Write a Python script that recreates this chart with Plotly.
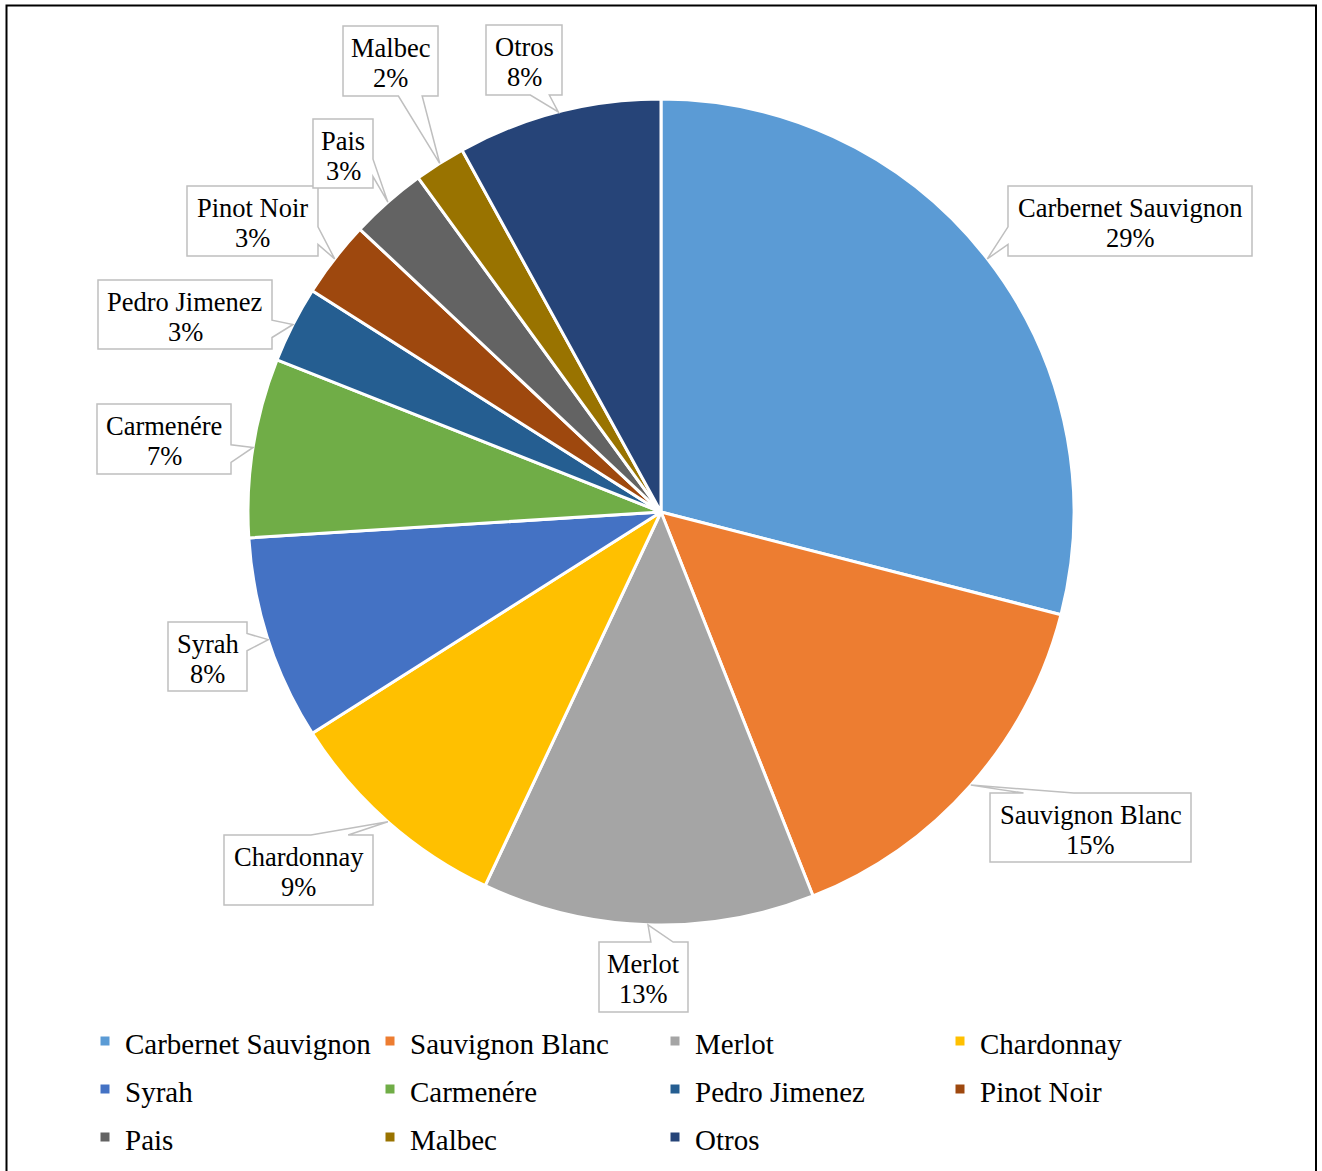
import math
import plotly.graph_objects as go

# Wine varieties and their share of planted area (%)
categories = ["Carbernet Sauvignon", "Sauvignon Blanc", "Merlot", "Chardonnay",
              "Syrah", "Carmenére", "Pedro Jimenez", "Pinot Noir", "Pais",
              "Malbec", "Otros"]
shares = [29, 15, 13, 9, 8, 7, 3, 3, 3, 2, 8]
colors = ["#5B9BD5", "#ED7D31", "#A5A5A5", "#FFC000", "#4472C4", "#70AD47",
          "#255E91", "#9E480E", "#636363", "#997300", "#264478"]

# Callout boxes (left, top, right, bottom) in page pixels
label_boxes = [(1008, 186, 1252, 256), (990, 793, 1191, 862), (599, 942, 688, 1012),
               (224, 835, 373, 905), (168, 622, 247, 691), (97, 404, 231, 474),
               (98, 280, 272, 349), (187, 186, 318, 256), (313, 119, 373, 188),
               (343, 26, 438, 96), (486, 25, 562, 95)]

W, H = 1322, 1171
CX, CY, R = 661, 512, 413
FONT = "Liberation Serif"


def to_paper(x, y):
    return x / W, 1 - y / H


fig = go.Figure()
fig.add_trace(go.Pie(
    labels=[f'<span style="font-size:29px">{c}</span>' for c in categories],
    values=shares,
    sort=False,
    direction="clockwise",
    rotation=0,
    textinfo="none",
    hoverinfo="label+percent",
    marker=dict(colors=colors, line=dict(color="white", width=3)),
    domain=dict(x=[(CX - R) / W, (CX + R) / W],
                y=[1 - (CY + R) / H, 1 - (CY - R) / H]),
))


def callout_path(box, tip):
    """Rectangle with a wedge pointer toward tip (pixel coords, y down)."""
    x0, y0, x1, y1 = box
    w, h = x1 - x0, y1 - y0
    cx, cy = (x0 + x1) / 2, (y0 + y1) / 2
    dx, dy = tip[0] - cx, tip[1] - cy
    dq = dx * h / w
    if abs(dy) > abs(dq):
        a = x0 + w * (7 if dx > 0 else 2) / 12
        b = x0 + w * (10 if dx > 0 else 5) / 12
        if dy < 0:
            pts = [(x0, y0), (a, y0), tip, (b, y0), (x1, y0), (x1, y1), (x0, y1)]
        else:
            pts = [(x0, y0), (x1, y0), (x1, y1), (b, y1), tip, (a, y1), (x0, y1)]
    else:
        a = y0 + h * (7 if dy > 0 else 2) / 12
        b = y0 + h * (10 if dy > 0 else 5) / 12
        if dx < 0:
            pts = [(x0, y0), (x1, y0), (x1, y1), (x0, y1), (x0, b), tip, (x0, a)]
        else:
            pts = [(x0, y0), (x1, y0), (x1, a), tip, (x1, b), (x1, y1), (x0, y1)]
    coords = [to_paper(px, py) for px, py in pts]
    return "M" + " L".join(f"{u:.5f},{v:.5f}" for u, v in coords) + " Z"


total = sum(shares)
cum = 0
for name, val, box in zip(categories, shares, label_boxes):
    mid = (cum + val / 2) / total * 2 * math.pi
    cum += val
    tip = (CX + R * math.sin(mid), CY - R * math.cos(mid))
    fig.add_shape(type="path", path=callout_path(box, tip), xref="paper", yref="paper",
                  line=dict(color="#BFBFBF", width=1.5), fillcolor="white", layer="above")
    bx = (box[0] + box[2]) / 2
    for text, dy in ((name, 22), (f"{val}%", 52)):
        px, py = to_paper(bx, box[1] + dy)
        fig.add_annotation(x=px, y=py, xref="paper", yref="paper", text=text,
                           showarrow=False, xanchor="center", yanchor="middle",
                           font=dict(family=FONT, size=26.5, color="black"))

# Outer chart frame
fx0, fy0 = to_paper(6.5, 5.5)
fx1, fy1 = to_paper(1316, 1185)
fig.add_shape(type="rect", x0=fx0, y0=fy1, x1=fx1, y1=fy0, xref="paper", yref="paper",
              line=dict(color="black", width=2), fillcolor="rgba(0,0,0,0)", layer="above")

lx, ly = to_paper(85, 1012)
fig.update_layout(
    width=W, height=H,
    margin=dict(l=0, r=0, t=0, b=0),
    paper_bgcolor="white",
    plot_bgcolor="white",
    showlegend=True,
    legend=dict(orientation="h", x=lx, y=ly, xanchor="left", yanchor="top",
                entrywidth=240, entrywidthmode="pixels",
                font=dict(family=FONT, size=34.6, color="black"),
                bgcolor="rgba(0,0,0,0)", traceorder="normal"),
)

fig.write_html("out.html")
